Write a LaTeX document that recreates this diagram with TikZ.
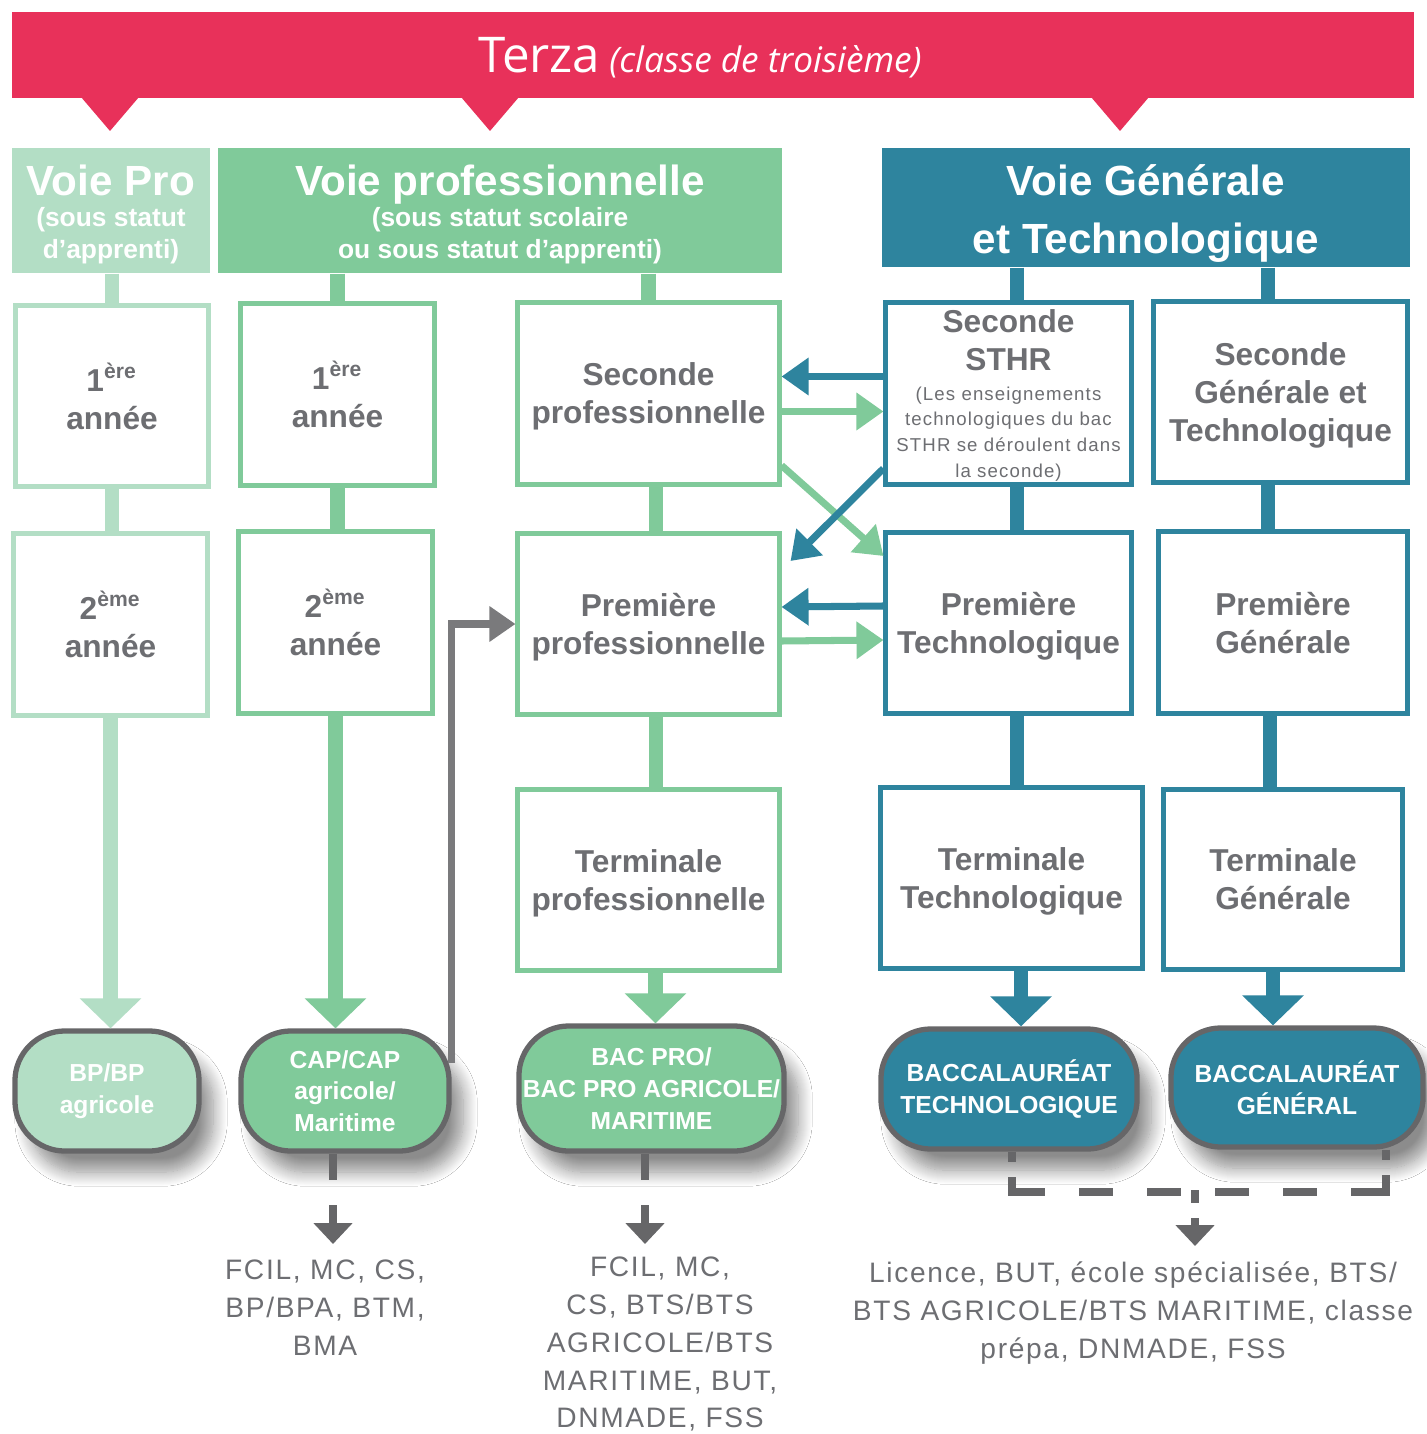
\documentclass[tikz,border=0pt]{standalone}
\usepackage{fontspec}
\setmainfont{Liberation Sans}
\newfontfamily\titlefont{Open Sans}
\newfontfamily\spacedfont{Liberation Sans}[LetterSpace=6]
\usetikzlibrary{arrows.meta,calc,shadows.blur}

\definecolor{terzared}{RGB}{232,49,90}
\definecolor{paleg}{RGB}{179,222,197}
\definecolor{midg}{RGB}{128,202,154}
\definecolor{voieteal}{RGB}{46,132,158}
\definecolor{txtgray}{RGB}{109,110,114}
\definecolor{rimgray}{RGB}{102,102,104}
\definecolor{elbowgray}{RGB}{122,122,124}

\tikzset{
  stage/.style={draw, line width=1.4pt, fill=white, align=center, inner sep=0pt,
    text=txtgray, font=\bfseries\fontsize{9}{10.8}\selectfont, text depth=0pt},
  header/.style={align=center, inner sep=0pt, text=white},
  exam/.style={draw=rimgray, line width=1.5pt, rounded corners=0.5cm, align=center,
    inner sep=0pt, text=white, font=\bfseries\fontsize{7}{9}\selectfont,
    blur shadow={shadow xshift=4pt, shadow yshift=-6pt, shadow opacity=45,
      shadow blur radius=4pt, shadow blur steps=15}},
  link/.style={line width=4.2pt},
  bigarrow/.style={line width=4.2pt, -{Triangle[length=0.3cm, width=0.6cm]}},
  swap/.style={line width=2pt, -{Triangle[length=0.27cm, width=0.36cm]}},
  stub/.style={line width=2.3pt, draw=rimgray},
  exit/.style={line width=2.3pt, draw=rimgray, -{Triangle[length=0.21cm, width=0.38cm]}},
  after/.style={align=center, text=txtgray, font=\spacedfont\fontsize{8}{10.8}\selectfont},
}

\begin{document}
\begin{tikzpicture}[x=0.01cm, y=-0.01cm]
    \useasboundingbox (0,0) rectangle (1426,1434);
    \fill[white] (0,0) rectangle (1426,1434);

    % Bandeau
    \node[fill=terzared, minimum width=14.02cm, minimum height=0.86cm, inner sep=0pt] (banner) at (713,55) {};
    \fill[terzared] (81,97) -- (139,97) -- (110,131) -- cycle;
    \fill[terzared] (461,97) -- (519,97) -- (490,131) -- cycle;
    \fill[terzared] (1091,97) -- (1149,97) -- (1120,131) -- cycle;
    \node[anchor=base, text=white, font=\titlefont, inner sep=0pt] (title) at (700,73)
        {{\fontsize{14}{16}\selectfont Terza}~{\itshape\fontsize{10}{12}\selectfont (classe de troisième)}};

    % Voies
    \node[header, fill=paleg, minimum width=1.98cm, minimum height=1.25cm,
        font=\bfseries\fontsize{7.5}{9.1}\selectfont] (voiepro) at (111,210.5)
        {{\fontsize{12}{14}\selectfont\rule{0pt}{11.1pt}Voie Pro}\\[-0.3pt](sous statut\\d’apprenti)};
    \node[header, fill=midg, minimum width=5.64cm, minimum height=1.25cm,
        font=\bfseries\fontsize{7.5}{9.1}\selectfont] (voieprof) at (500,210.5)
        {{\fontsize{12}{14}\selectfont\rule{0pt}{11.1pt}Voie professionnelle}\\[-0.3pt](sous statut scolaire\\ou sous statut d’apprenti)};
    \node[header, fill=voieteal, minimum width=5.28cm, minimum height=1.19cm,
        font=\bfseries\fontsize{12}{16.5}\selectfont] (voiegt) at (1146,207.5)
        {\rule{0pt}{12.3pt}Voie Générale\\et Technologique};

    % Classes
    \node[stage, draw=paleg, minimum width=1.93cm, minimum height=1.80cm] (pro1) at (112,396) {1\textsuperscript{ère}\\année};
    \node[stage, draw=paleg, minimum width=1.93cm, minimum height=1.81cm] (pro2) at (110.5,624.5) {2\textsuperscript{ème}\\année};
    \node[stage, draw=midg, minimum width=1.93cm, minimum height=1.81cm] (cap1) at (337.5,394.5) {1\textsuperscript{ère}\\année};
    \node[stage, draw=midg, minimum width=1.93cm, minimum height=1.81cm] (cap2) at (335.5,622.5) {2\textsuperscript{ème}\\année};

    \node[stage, draw=midg, minimum width=2.61cm, minimum height=1.81cm] (spro) at (648.5,393.5) {Seconde\\professionnelle};
    \node[stage, draw=midg, minimum width=2.61cm, minimum height=1.81cm] (ppro) at (648.5,624) {Première\\professionnelle};
    \node[stage, draw=midg, minimum width=2.61cm, minimum height=1.80cm] (tpro) at (648.5,880) {Terminale\\professionnelle};

    \node[stage, draw=voieteal, minimum width=2.45cm, minimum height=1.81cm, text depth=-1.5pt,
        font=\spacedfont\fontsize{5.3}{7.3}\selectfont] (sthr) at (1008.5,393.5)
        {{\normalfont\bfseries\fontsize{9}{10.8}\selectfont Seconde}\\[3.5pt]{\normalfont\bfseries\fontsize{9}{10.8}\selectfont STHR}\\[1pt]
         (Les enseignements\\technologiques du bac\\STHR se déroulent dans\\la seconde)};
    \node[stage, draw=voieteal, minimum width=2.45cm, minimum height=1.81cm] (ptec) at (1008.5,623) {Première\\Technologique};
    \node[stage, draw=voieteal, minimum width=2.61cm, minimum height=1.80cm] (ttec) at (1011.5,878) {Terminale\\Technologique};

    \node[stage, draw=voieteal, minimum width=2.53cm, minimum height=1.80cm] (sgt) at (1280.5,392) {Seconde\\Générale et\\Technologique};
    \node[stage, draw=voieteal, minimum width=2.48cm, minimum height=1.81cm] (pgen) at (1283,622.5) {Première\\Générale};
    \node[stage, draw=voieteal, minimum width=2.38cm, minimum height=1.79cm] (tgen) at (1283,879.5) {Terminale\\Générale};

    % Liens verticaux
    \draw[link, paleg] (voiepro.south -| pro1.north) -- (pro1.north);
    \draw[link, paleg] (pro1.south) -- (pro1.south |- pro2.north);
    \draw[link, midg] (voieprof.south -| cap1.north) -- (cap1.north);
    \draw[link, midg] (cap1.south) -- (cap1.south |- cap2.north);
    \draw[link, midg] (voieprof.south -| spro.north) -- (spro.north);
    \draw[link, midg] ([xshift=0.075cm]spro.south) -- ([xshift=0.075cm]spro.south |- ppro.north);
    \draw[link, midg] ([xshift=0.075cm]ppro.south) -- ([xshift=0.075cm]ppro.south |- tpro.north);
    \draw[link, voieteal] ([xshift=0.085cm]sthr.north |- voiegt.south) -- ([xshift=0.085cm]sthr.north);
    \draw[link, voieteal] ([xshift=0.085cm]sthr.south) -- ([xshift=0.085cm]sthr.south |- ptec.north);
    \draw[link, voieteal] ([xshift=0.085cm]ptec.south) -- ([xshift=0.085cm]ptec.south |- ttec.north);
    \draw[link, voieteal] ([xshift=-0.125cm]sgt.north |- voiegt.south) -- ([xshift=-0.125cm]sgt.north);
    \draw[link, voieteal] ([xshift=-0.125cm]sgt.south) -- ([xshift=-0.125cm]sgt.south |- pgen.north);
    \draw[link, voieteal] ([xshift=-0.13cm]pgen.south) -- ([xshift=-0.13cm]pgen.south |- tgen.north);

    % Passerelles
    \draw[swap, voieteal] ($(sthr.west)+(0,-17)$) -- ($(spro.east)+(0,-17)$);
    \draw[swap, midg] ($(spro.east)+(0,18)$) -- ($(sthr.west)+(0,18)$);
    \draw[swap, midg] ($(spro.east)+(0,72)$) -- ($(ptec.west)+(0,-67)$);
    \draw[swap, voieteal] ($(sthr.west)+(0,75)$) -- ($(ppro.east)+(9,-63)$);
    \draw[swap, voieteal] ($(ptec.west)+(0,-17)$) -- ($(ppro.east)+(0,-17)$);
    \draw[swap, midg] ($(ppro.east)+(0,17)$) -- ($(ptec.west)+(0,17)$);

    % Diplomes
    \node[exam, fill=paleg, minimum width=1.84cm, minimum height=1.20cm] (bp) at (107,1091) {BP/BP\\agricole};
    \node[exam, fill=midg, minimum width=2.08cm, minimum height=1.20cm] (cap) at (345,1091) {CAP/CAP\\agricole/\\Maritime};
    \node[exam, fill=midg, minimum width=2.65cm, minimum height=1.25cm] (bacpro) at (651.5,1088.5) {BAC PRO/\\BAC PRO AGRICOLE/\\MARITIME};
    \node[exam, fill=voieteal, minimum width=2.56cm, minimum height=1.20cm] (bactec) at (1009,1089) {BACCALAURÉAT\\TECHNOLOGIQUE};
    \node[exam, fill=voieteal, minimum width=2.52cm, minimum height=1.19cm] (bacgen) at (1297,1087.5) {BACCALAURÉAT\\GÉNÉRAL};

    \draw[bigarrow, paleg] (pro2.south) -- (pro2.south |- bp.north);
    \draw[bigarrow, midg] (cap2.south) -- (cap2.south |- cap.north);
    \draw[bigarrow, midg] ([xshift=0.07cm]tpro.south) -- ([xshift=0.07cm]tpro.south |- bacpro.north);
    \draw[bigarrow, voieteal] ([xshift=0.095cm]ttec.south) -- ([xshift=0.095cm]ttec.south |- bactec.north);
    \draw[bigarrow, voieteal] ([xshift=-0.1cm]tgen.south) -- ([xshift=-0.1cm]tgen.south |- bacgen.north);

    % CAP vers premiere pro
    \draw[line width=2pt, elbowgray, -{Triangle[length=0.26cm, width=0.34cm]}]
        ($(cap.east)+(0,-28)$) |- (ppro.west);

    % Poursuites
    \coordinate (capstub) at (333,1180);
    \coordinate (capexit) at (333,1205);
    \coordinate (captip) at (333,1244);
    \draw[stub] (capstub |- cap.south) -- (capstub);
    \draw[exit] (capexit) -- (captip);

    \coordinate (prostub) at (645,1180);
    \coordinate (proexit) at (645,1205);
    \coordinate (protip) at (645,1244);
    \draw[stub] (prostub |- bacpro.south) -- (prostub);
    \draw[exit] (proexit) -- (protip);

    \coordinate (tecstub) at (1012,1162);
    \coordinate (genstub) at (1386,1160);
    \coordinate (dlt) at (1012,1177);
    \coordinate (dl) at (1012,1192);
    \coordinate (dr) at (1386,1192);
    \coordinate (drt) at (1386,1175);
    \coordinate (dm) at (1195,1190);
    \coordinate (dmt) at (1195,1203);
    \coordinate (gtexit) at (1195,1218);
    \coordinate (gttip) at (1195,1246);
    \draw[stub] (tecstub |- bactec.south) -- (tecstub);
    \draw[stub] (genstub |- bacgen.south) -- (genstub);
    \draw[stub, dash pattern=on 0.48cm off 0.34cm on 0.34cm off 0.34cm on 0.34cm off 0.34cm
        on 0.34cm off 0.34cm on 0.34cm off 0.34cm on 0.6cm off 1cm] (dlt) -- (dl) -- (dr) -- (drt);
    \draw[stub] (dm) -- (dmt);
    \draw[exit] (gtexit) -- (gttip);

    \node[after] (outcap) at (325,1308) {FCIL, MC, CS,\\BP/BPA, BTM,\\BMA};
    \node[after] (outpro) at (660,1344) {FCIL, MC,\\CS, BTS/BTS\\AGRICOLE/BTS\\MARITIME, BUT,\\DNMADE, FSS};
    \node[after] (outgt) at (1133,1313) {Licence, BUT, école spécialisée, BTS/\\BTS AGRICOLE/BTS MARITIME, classe\\prépa, DNMADE, FSS};
\end{tikzpicture}
\end{document}
